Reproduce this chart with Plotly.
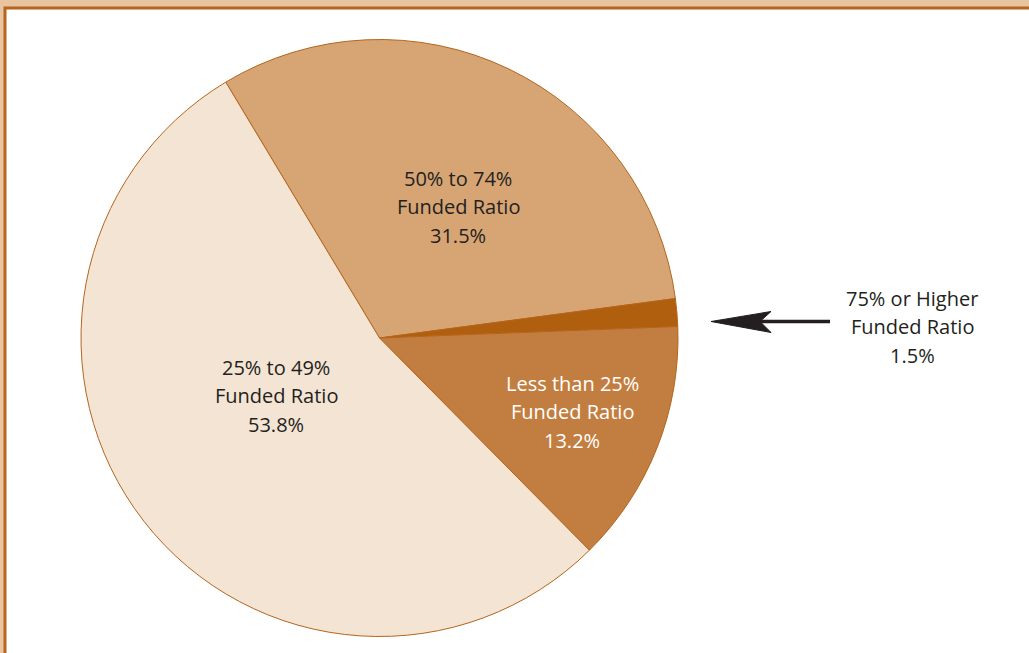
import plotly.graph_objects as go

W, H = 1029, 653

labels = ["50% to 74%<br>Funded Ratio", "75% or Higher<br>Funded Ratio",
          "Less than 25%<br>Funded Ratio", "25% to 49%<br>Funded Ratio"]
values = [31.5, 1.5, 13.2, 53.8]
colors = ["#D7A574", "#B05F0F", "#C27E40", "#F4E4D4"]
text_colors = ["#231F20", "#231F20", "#FFFFFF", "#231F20"]
# label anchor (pixel) positions for each slice
label_pos = [(458, 178), (912, 298), (572, 383), (276, 367)]

BORDER = "#B5651D"
FONT = "Open Sans"
LINE_GAP = 28.5


def px(x, y):
    return x / W, 1 - y / H


# pie placement, centre (379.5, 338), radius 298.5
cx, cy, r = 379.5, 338, 298.5
x0, y1 = px(cx - r, cy - r)
x1, y0 = px(cx + r, cy + r)

fig = go.Figure(go.Pie(
    labels=labels,
    values=values,
    sort=False,
    direction="clockwise",
    rotation=-31,
    marker=dict(colors=colors, line=dict(color=BORDER, width=1)),
    textinfo="none",
    hoverinfo="label+percent",
    showlegend=False,
    domain=dict(x=[x0, x1], y=[y0, y1]),
))

annotations = []
for lab, val, tc, (lx, ly) in zip(labels, values, text_colors, label_pos):
    lines = lab.split("<br>") + [f"{val}%"]
    for i, line in enumerate(lines):
        ax, ay = px(lx, ly + i * LINE_GAP)
        annotations.append(dict(
            x=ax, y=ay, xref="paper", yref="paper", text=line,
            showarrow=False, xanchor="center", yanchor="middle",
            font=dict(family=FONT, size=20, color=tc),
        ))

# white panel with orange frame
shapes = [dict(type="rect", xref="paper", yref="paper", layer="below",
               x0=5 / W, y0=-0.1, x1=1.1, y1=1 - 8 / H,
               fillcolor="white", line=dict(color=BORDER, width=3))]

# arrow pointing at the small slice
sx0, sy = px(760, 321.5)
sx1, _ = px(830, 321.5)
shapes.append(dict(type="line", xref="paper", yref="paper",
                   x0=sx0, x1=sx1, y0=sy, y1=sy,
                   line=dict(color="#231F20", width=3.3)))
tip = px(711, 321.5)
b1 = px(771, 311.5)
notch = px(760, 321.5)
b2 = px(771, 332.5)
path = (f"M{tip[0]},{tip[1]} L{b1[0]},{b1[1]} L{notch[0]},{notch[1]} "
        f"L{b2[0]},{b2[1]} Z")
shapes.append(dict(type="path", xref="paper", yref="paper", path=path,
                   fillcolor="#231F20", line=dict(color="#231F20", width=1)))

fig.update_layout(
    width=W, height=H,
    margin=dict(l=0, r=0, t=0, b=0),
    paper_bgcolor="#E9C4A1",
    plot_bgcolor="white",
    shapes=shapes,
    annotations=annotations,
)

fig.write_html("out.html", config={"displayModeBar": False},
               post_script="document.body.style.margin='0';")
